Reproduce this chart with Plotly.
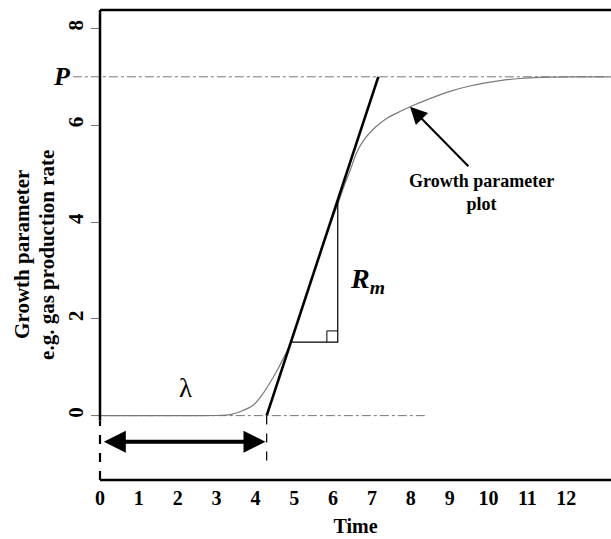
import plotly.graph_objects as go

# ---- data ----
curve_t = [0, 1, 2, 3, 3.35, 3.6, 3.95, 4.2, 4.42, 4.59, 4.76, 4.9, 5.2, 5.5, 5.8,
           6.13, 6.28, 6.44, 6.6, 6.78, 7.0, 7.21, 7.42, 7.64, 7.98, 8.49, 9.01,
           9.52, 10.3, 10.81, 11.33, 12.1, 13.15]
curve_y = [0, 0, 0, 0.003, 0.02, 0.08, 0.22, 0.46, 0.74, 0.98, 1.25, 1.48, 2.21, 2.95, 3.68,
           4.39, 4.74, 5.07, 5.42, 5.68, 5.89, 6.04, 6.16, 6.25, 6.38, 6.55, 6.70,
           6.81, 6.92, 6.965, 6.99, 7.0, 7.0]

P = 7.0          # asymptote
lag = 4.29       # lambda
Rm = 2.436       # maximum rate (tangent slope)
tri_bottom_y = 1.52
tri_right_x = 6.12

x_ticks = list(range(0, 13))
x_ticktext = [str(v) for v in x_ticks]
y_ticks = [0, 2, 4, 6, 8]
y_ticktext = [str(v) for v in y_ticks]

X_RANGE = [0, 13.153]
Y_RANGE = [-1.33, 8.38]

SERIF = "Liberation Serif"

fig = go.Figure()

# growth curve
fig.add_trace(go.Scatter(x=curve_t, y=curve_y, mode="lines",
                         line=dict(color="#7a7a7a", width=1.2, shape="spline", smoothing=0.6),
                         hoverinfo="skip", showlegend=False))

# tangent line
tan_top = lag + P / Rm
fig.add_trace(go.Scatter(x=[lag, tan_top], y=[0, P], mode="lines",
                         line=dict(color="black", width=2.6),
                         hoverinfo="skip", showlegend=False))

# triangle
tri_left_x = lag + tri_bottom_y / Rm
tri_top_y = Rm * (tri_right_x - lag)
fig.add_trace(go.Scatter(x=[tri_left_x, tri_right_x, tri_right_x],
                         y=[tri_bottom_y, tri_bottom_y, tri_top_y], mode="lines",
                         line=dict(color="black", width=1.2),
                         hoverinfo="skip", showlegend=False))
sq_dx, sq_dy = 0.28, 0.23
fig.add_trace(go.Scatter(x=[tri_right_x - sq_dx, tri_right_x - sq_dx, tri_right_x],
                         y=[tri_bottom_y, tri_bottom_y + sq_dy, tri_bottom_y + sq_dy], mode="lines",
                         line=dict(color="black", width=1),
                         hoverinfo="skip", showlegend=False))

shapes = []
# reference lines (dash-dot gray)
shapes.append(dict(type="line", xref="paper", yref="y", x0=-0.053, x1=0.993, y0=P, y1=P,
                   line=dict(color="#777777", width=1, dash="dashdot")))
shapes.append(dict(type="line", xref="paper", yref="y", x0=-0.016, x1=0.64, y0=0, y1=0,
                   line=dict(color="#777777", width=1, dash="dashdot")))
# frame
shapes.append(dict(type="line", xref="paper", yref="paper", x0=0, x1=1, y0=1, y1=1,
                   line=dict(color="black", width=2.5)))
shapes.append(dict(type="line", xref="paper", yref="paper", x0=0, x1=1, y0=0, y1=0,
                   line=dict(color="black", width=2.5)))
shapes.append(dict(type="line", xref="paper", yref="y", x0=0, x1=0, y0=-0.1, y1=Y_RANGE[1],
                   line=dict(color="black", width=2.5)))
shapes.append(dict(type="line", xref="paper", yref="y", x0=0, x1=0, y0=Y_RANGE[0], y1=-0.1,
                   line=dict(color="black", width=2.2, dash="dash")))
# lag vertical dashed
shapes.append(dict(type="line", xref="x", yref="y", x0=lag, x1=lag, y0=0, y1=-1.02,
                   line=dict(color="black", width=1.2, dash="dash")))

annotations = []
# y title
annotations.append(dict(text="<b>Growth parameter</b>", xref="paper", yref="paper",
                        x=-0.1526, y=0.479, textangle=-90, showarrow=False,
                        xanchor="center", yanchor="middle",
                        font=dict(family=SERIF, size=21, color="black")))
annotations.append(dict(text="<b>e.g. gas production rate</b>", xref="paper", yref="paper",
                        x=-0.1037, y=0.479, textangle=-90, showarrow=False,
                        xanchor="center", yanchor="middle",
                        font=dict(family=SERIF, size=21, color="black")))
# P label
annotations.append(dict(text="<b><i>P</i></b>", xref="paper", yref="y", x=-0.0744, y=P,
                        xanchor="center", yanchor="middle",
                        showarrow=False, font=dict(family=SERIF, size=26, color="black")))
# lambda
annotations.append(dict(text="λ", xref="x", yref="y", x=2.19, y=0.57, showarrow=False,
                        xanchor="center", yanchor="middle",
                        font=dict(family=SERIF, size=27, color="black")))
# Rm
annotations.append(dict(text="<b><i>R<sub>m</sub></i></b>", xref="x", yref="y", x=6.88, y=2.8,
                        xanchor="center", yanchor="middle",
                        showarrow=False, font=dict(family=SERIF, size=28, color="black")))
# curve label
annotations.append(dict(text="<b>Growth parameter<br>plot</b>", xref="x", yref="y", x=9.81, y=4.6,
                        xanchor="center", yanchor="middle",
                        showarrow=False, font=dict(family=SERIF, size=18, color="black")))
# arrow to curve
annotations.append(dict(text="", xref="x", yref="y", x=7.98, y=6.38, axref="x", ayref="y",
                        ax=9.52, ay=5.12, showarrow=True, arrowhead=2, arrowsize=1.7,
                        arrowwidth=2, arrowcolor="black"))
# lambda double arrow
annotations.append(dict(text="", xref="x", yref="y", x=lag - 0.03, y=-0.54, axref="x", ayref="y",
                        ax=0.06, ay=-0.54, showarrow=True, arrowhead=2, startarrowhead=2,
                        arrowside="end+start", arrowsize=1.1, startarrowsize=1.1,
                        arrowwidth=4, arrowcolor="black"))

fig.update_layout(
    width=611, height=539,
    margin=dict(l=100, r=0, t=10, b=59),
    plot_bgcolor="white", paper_bgcolor="white",
    shapes=shapes, annotations=annotations,
    xaxis=dict(range=X_RANGE, tickvals=x_ticks, ticktext=x_ticktext, showgrid=False,
               zeroline=False, showline=False, ticks="", ticklabelstandoff=4,
               tickfont=dict(family=SERIF, size=20, color="black", weight="bold"),
               title=dict(text="<b>Time</b>", standoff=10,
                          font=dict(family=SERIF, size=20, color="black"))),
    yaxis=dict(range=Y_RANGE, tickvals=y_ticks, ticktext=y_ticktext, showgrid=False,
               zeroline=False, showline=False, ticks="outside", ticklen=8,
               tickcolor="#777777", tickwidth=1, tickangle=-90,
               tickfont=dict(family=SERIF, size=21, color="black", weight="bold")),
)

fig.write_html("out.html", config={"displayModeBar": False},
               post_script="document.body.style.margin='0';")
